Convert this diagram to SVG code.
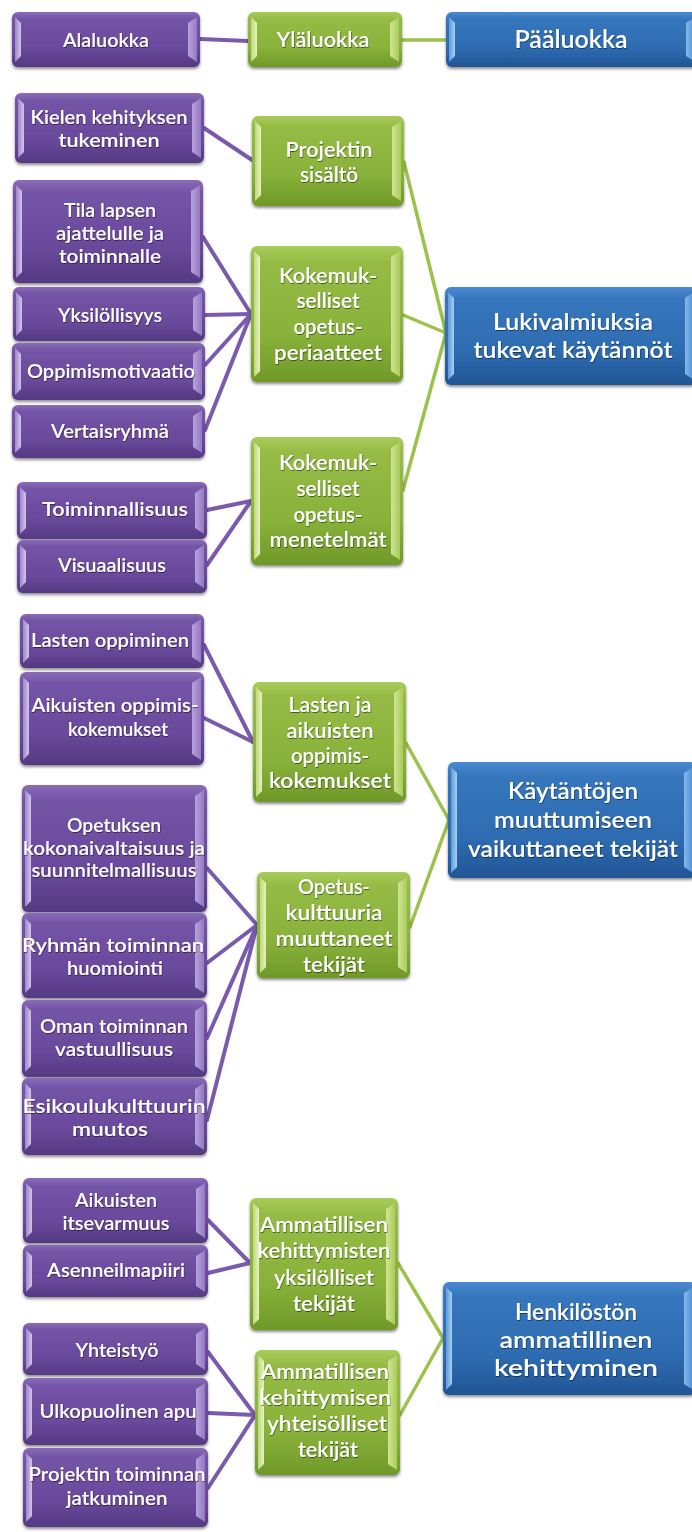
<svg xmlns="http://www.w3.org/2000/svg" width="692" height="1532" viewBox="0 0 692 1532">
  <defs>
    <!-- box bodies -->
    <linearGradient id="gP" x1="0" y1="0" x2="0" y2="1">
      <stop offset="0" stop-color="#8a6cba"/>
      <stop offset="0.12" stop-color="#7454a6"/>
      <stop offset="0.65" stop-color="#6a4a9c"/>
      <stop offset="1" stop-color="#553983"/>
    </linearGradient>
    <linearGradient id="gG" x1="0" y1="0" x2="0" y2="1">
      <stop offset="0" stop-color="#a9cc5a"/>
      <stop offset="0.12" stop-color="#95bb45"/>
      <stop offset="0.65" stop-color="#89b23b"/>
      <stop offset="1" stop-color="#6f9828"/>
    </linearGradient>
    <linearGradient id="gB" x1="0" y1="0" x2="0" y2="1">
      <stop offset="0" stop-color="#4a8ad0"/>
      <stop offset="0.12" stop-color="#3676bd"/>
      <stop offset="0.65" stop-color="#2e6cb1"/>
      <stop offset="1" stop-color="#215595"/>
    </linearGradient>
    <!-- bevel faces -->
    <linearGradient id="lP" x1="0" y1="0" x2="1" y2="0">
      <stop offset="0" stop-color="#9f86c9"/>
      <stop offset="1" stop-color="#d3c4ee"/>
    </linearGradient>
    <linearGradient id="rP" x1="0" y1="0" x2="1" y2="0">
      <stop offset="0" stop-color="#b8a2dc"/>
      <stop offset="1" stop-color="#9479c2"/>
    </linearGradient>
    <linearGradient id="lG" x1="0" y1="0" x2="1" y2="0">
      <stop offset="0" stop-color="#bcd97a"/>
      <stop offset="1" stop-color="#e8f3c0"/>
    </linearGradient>
    <linearGradient id="rG" x1="0" y1="0" x2="1" y2="0">
      <stop offset="0" stop-color="#d0e592"/>
      <stop offset="1" stop-color="#a9cb5c"/>
    </linearGradient>
    <linearGradient id="lB" x1="0" y1="0" x2="1" y2="0">
      <stop offset="0" stop-color="#5f9ad8"/>
      <stop offset="1" stop-color="#a8d0f2"/>
    </linearGradient>
    <linearGradient id="rB" x1="0" y1="0" x2="1" y2="0">
      <stop offset="0" stop-color="#86b8ea"/>
      <stop offset="1" stop-color="#4f8dd2"/>
    </linearGradient>
    <filter id="sh" x="-10%" y="-10%" width="120%" height="130%">
      <feDropShadow dx="0" dy="2" stdDeviation="1.5" flood-color="#000" flood-opacity="0.45"/>
    </filter>
    <filter id="ts" x="-10%" y="-30%" width="120%" height="160%">
      <feDropShadow dx="0.6" dy="1" stdDeviation="0.7" flood-color="#000" flood-opacity="0.5"/>
    </filter>
  </defs>
  <style>
    .node text{font-family:Lato,"Liberation Sans",sans-serif;fill:#fff;text-anchor:middle;font-weight:600;filter:url(#ts)}
    .purple text{font-size:18.5px}
    .green text{font-size:21.5px}
    .blue text{font-size:23.5px}
    .body{filter:url(#sh)}
    .purple .body{fill:url(#gP)}
    .green .body{fill:url(#gG)}
    .blue .body{fill:url(#gB)}
    .purple .lf{fill:url(#lP)}
    .purple .rf{fill:url(#rP)}
    .green .lf{fill:url(#lG)}
    .green .rf{fill:url(#rG)}
    .blue .lf{fill:url(#lB)}
    .blue .rf{fill:url(#rB)}
    .edge{fill:none;stroke-linecap:round}
    .ep{stroke:#7a5aad;stroke-width:4}
    .eg{stroke:#9cc24b;stroke-width:3.5}
  </style>

  <rect width="692" height="1532" fill="#fff"/>

  <!-- connectors -->
  <g id="connectors">
    <line class="edge ep" x1="200" y1="39" x2="248" y2="41"/>
    <line class="edge eg" x1="402" y1="40" x2="446" y2="40"/>

    <line class="edge ep" x1="204" y1="128" x2="252" y2="160"/>
    <line class="edge ep" x1="203" y1="237" x2="251" y2="314"/>
    <line class="edge ep" x1="205" y1="315" x2="251" y2="314"/>
    <line class="edge ep" x1="205" y1="365" x2="251" y2="314"/>
    <line class="edge ep" x1="205" y1="430" x2="251" y2="314"/>
    <line class="edge ep" x1="207" y1="510" x2="251" y2="501"/>
    <line class="edge ep" x1="207" y1="565" x2="251" y2="501"/>
    <line class="edge eg" x1="404" y1="162" x2="446" y2="333"/>
    <line class="edge eg" x1="403" y1="315" x2="446" y2="333"/>
    <line class="edge eg" x1="403" y1="490" x2="446" y2="333"/>

    <line class="edge ep" x1="204" y1="645" x2="253" y2="742"/>
    <line class="edge ep" x1="204" y1="718" x2="253" y2="742"/>
    <line class="edge ep" x1="207" y1="868" x2="257" y2="925"/>
    <line class="edge ep" x1="207" y1="963" x2="257" y2="925"/>
    <line class="edge ep" x1="207" y1="1038" x2="257" y2="925"/>
    <line class="edge ep" x1="207" y1="1120" x2="257" y2="925"/>
    <line class="edge eg" x1="406" y1="743" x2="449" y2="820"/>
    <line class="edge eg" x1="410" y1="927" x2="449" y2="820"/>

    <line class="edge ep" x1="208" y1="1220" x2="250" y2="1263"/>
    <line class="edge ep" x1="208" y1="1273" x2="250" y2="1263"/>
    <line class="edge ep" x1="208" y1="1352" x2="255" y2="1415"/>
    <line class="edge ep" x1="208" y1="1413" x2="255" y2="1415"/>
    <line class="edge ep" x1="208" y1="1488" x2="255" y2="1415"/>
    <line class="edge eg" x1="398" y1="1263" x2="443" y2="1338"/>
    <line class="edge eg" x1="400" y1="1415" x2="443" y2="1338"/>
  </g>

  <!-- key row -->
  <g id="alaluokka" class="node purple" transform="translate(12,12)">
    <rect class="body" width="188" height="55" rx="6"/>
    <polygon class="lf" points="3,5 9,11 9,44 3,50"/>
    <polygon class="rf" points="185,5 176,11 176,44 185,50"/>
    <text x="94" y="35" style="font-size:20px" textLength="86" lengthAdjust="spacingAndGlyphs">Alaluokka</text>
  </g>
  <g id="ylaluokka" class="node green" transform="translate(248,12)">
    <rect class="body" width="154" height="55" rx="6"/>
    <polygon class="lf" points="3,5 9,11 9,44 3,50"/>
    <polygon class="rf" points="151,5 142,11 142,44 151,50"/>
    <text x="75" y="35" style="font-size:21px" textLength="93" lengthAdjust="spacingAndGlyphs">Yläluokka</text>
  </g>
  <g id="paaluokka" class="node blue" transform="translate(446,12)">
    <rect class="body" width="252" height="55" rx="6"/>
    <polygon class="lf" points="3,5 9,11 9,44 3,50"/>
    <polygon class="rf" points="249,5 240,11 240,44 249,50"/>
    <text x="125" y="36" style="font-size:24px" textLength="113" lengthAdjust="spacingAndGlyphs">Pääluokka</text>
  </g>

  <!-- group 1 -->
  <g id="kielen" class="node purple" transform="translate(15,93)">
    <rect class="body" width="189" height="70" rx="6"/>
    <polygon class="lf" points="3,5 9,11 9,59 3,65"/>
    <polygon class="rf" points="186,5 177,11 177,59 186,65"/>
    <text x="94" y="31" textLength="157" lengthAdjust="spacingAndGlyphs">Kielen kehityksen</text>
    <text x="94" y="54" textLength="101" lengthAdjust="spacingAndGlyphs">tukeminen</text>
  </g>
  <g id="tila" class="node purple" transform="translate(13,180)">
    <rect class="body" width="190" height="103" rx="6"/>
    <polygon class="lf" points="3,5 9,11 9,92 3,98"/>
    <polygon class="rf" points="187,5 178,11 178,92 187,98"/>
    <text x="97" y="37" textLength="92" lengthAdjust="spacingAndGlyphs">Tila lapsen</text>
    <text x="97" y="60" textLength="108" lengthAdjust="spacingAndGlyphs">ajattelulle ja</text>
    <text x="97" y="83" textLength="102" lengthAdjust="spacingAndGlyphs">toiminnalle</text>
  </g>
  <g id="yksilollisyys" class="node purple" transform="translate(13,287)">
    <rect class="body" width="192" height="54" rx="6"/>
    <polygon class="lf" points="3,5 9,11 9,43 3,49"/>
    <polygon class="rf" points="189,5 180,11 180,43 189,49"/>
    <text x="97" y="35" textLength="104" lengthAdjust="spacingAndGlyphs">Yksilöllisyys</text>
  </g>
  <g id="oppimismotivaatio" class="node purple" transform="translate(12,343)">
    <rect class="body" width="193" height="57" rx="6"/>
    <polygon class="lf" points="3,5 9,11 9,46 3,52"/>
    <polygon class="rf" points="190,5 181,11 181,46 190,52"/>
    <text x="99" y="35" textLength="168" lengthAdjust="spacingAndGlyphs">Oppimismotivaatio</text>
  </g>
  <g id="vertaisryhma" class="node purple" transform="translate(12,405)">
    <rect class="body" width="193" height="53" rx="6"/>
    <polygon class="lf" points="3,5 9,11 9,42 3,48"/>
    <polygon class="rf" points="190,5 181,11 181,42 190,48"/>
    <text x="98" y="33" textLength="118" lengthAdjust="spacingAndGlyphs">Vertaisryhmä</text>
  </g>
  <g id="toiminnallisuus" class="node purple" transform="translate(17,482)">
    <rect class="body" width="190" height="57" rx="6"/>
    <polygon class="lf" points="3,5 9,11 9,46 3,52"/>
    <polygon class="rf" points="187,5 178,11 178,46 187,52"/>
    <text x="98" y="34" textLength="146" lengthAdjust="spacingAndGlyphs">Toiminnallisuus</text>
  </g>
  <g id="visuaalisuus" class="node purple" transform="translate(17,540)">
    <rect class="body" width="190" height="53" rx="6"/>
    <polygon class="lf" points="3,5 9,11 9,42 3,48"/>
    <polygon class="rf" points="187,5 178,11 178,42 187,48"/>
    <text x="95" y="32" textLength="108" lengthAdjust="spacingAndGlyphs">Visuaalisuus</text>
  </g>
  <g id="projektin-sisalto" class="node green" transform="translate(252,116)">
    <rect class="body" width="152" height="90" rx="6"/>
    <polygon class="lf" points="3,5 9,11 9,79 3,85"/>
    <polygon class="rf" points="149,5 140,11 140,79 149,85"/>
    <text x="77" y="41" textLength="87" lengthAdjust="spacingAndGlyphs">Projektin</text>
    <text x="77" y="66" textLength="58" lengthAdjust="spacingAndGlyphs">sisältö</text>
  </g>
  <g id="periaatteet" class="node green" transform="translate(251,246)">
    <rect class="body" width="152" height="136" rx="6"/>
    <polygon class="lf" points="3,5 9,11 9,125 3,131"/>
    <polygon class="rf" points="149,5 140,11 140,125 149,131"/>
    <text x="77" y="37" textLength="98" lengthAdjust="spacingAndGlyphs">Kokemuk-</text>
    <text x="77" y="62" textLength="63" lengthAdjust="spacingAndGlyphs">selliset</text>
    <text x="77" y="88" textLength="69" lengthAdjust="spacingAndGlyphs">opetus-</text>
    <text x="77" y="114" textLength="108" lengthAdjust="spacingAndGlyphs">periaatteet</text>
  </g>
  <g id="menetelmat" class="node green" transform="translate(251,437)">
    <rect class="body" width="152" height="128" rx="6"/>
    <polygon class="lf" points="3,5 9,11 9,117 3,123"/>
    <polygon class="rf" points="149,5 140,11 140,117 149,123"/>
    <text x="77" y="33" textLength="98" lengthAdjust="spacingAndGlyphs">Kokemuk-</text>
    <text x="77" y="59" textLength="63" lengthAdjust="spacingAndGlyphs">selliset</text>
    <text x="77" y="85" textLength="69" lengthAdjust="spacingAndGlyphs">opetus-</text>
    <text x="77" y="110" textLength="117" lengthAdjust="spacingAndGlyphs">menetelmät</text>
  </g>
  <g id="lukivalmiuksia" class="node blue" transform="translate(445,287)">
    <rect class="body" width="252" height="98" rx="6"/>
    <polygon class="lf" points="3,5 9,11 9,87 3,93"/>
    <polygon class="rf" points="249,5 240,11 240,87 249,93"/>
    <text x="128" y="43" textLength="160" lengthAdjust="spacingAndGlyphs">Lukivalmiuksia</text>
    <text x="128" y="71" textLength="199" lengthAdjust="spacingAndGlyphs">tukevat käytännöt</text>
  </g>

  <!-- group 2 -->
  <g id="lasten-oppiminen" class="node purple" transform="translate(20,614)">
    <rect class="body" width="184" height="54" rx="6"/>
    <polygon class="lf" points="3,5 9,11 9,43 3,49"/>
    <polygon class="rf" points="181,5 172,11 172,43 181,49"/>
    <text x="90" y="33" textLength="158" lengthAdjust="spacingAndGlyphs">Lasten oppiminen</text>
  </g>
  <g id="aikuisten-oppimiskokemukset" class="node purple" transform="translate(20,672)">
    <rect class="body" width="184" height="93" rx="6"/>
    <polygon class="lf" points="3,5 9,11 9,82 3,88"/>
    <polygon class="rf" points="181,5 172,11 172,82 181,88"/>
    <text x="95" y="40" textLength="167" lengthAdjust="spacingAndGlyphs">Aikuisten oppimis-</text>
    <text x="98" y="64" textLength="100" lengthAdjust="spacingAndGlyphs">kokemukset</text>
  </g>
  <g id="opetuksen" class="node purple" transform="translate(22,785)">
    <rect class="body" width="185" height="127" rx="6"/>
    <polygon class="lf" points="3,5 9,11 9,116 3,122"/>
    <polygon class="rf" points="182,5 173,11 173,116 182,122"/>
    <text x="92" y="47" textLength="94" lengthAdjust="spacingAndGlyphs">Opetuksen</text>
    <text x="92" y="70" textLength="182" lengthAdjust="spacingAndGlyphs">kokonaivaltaisuus ja</text>
    <text x="92" y="92" textLength="165" lengthAdjust="spacingAndGlyphs">suunnitelmallisuus</text>
  </g>
  <g id="ryhman" class="node purple" transform="translate(22,913)">
    <rect class="body" width="185" height="85" rx="6"/>
    <polygon class="lf" points="3,5 9,11 9,74 3,80"/>
    <polygon class="rf" points="182,5 173,11 173,74 182,80"/>
    <text x="91" y="39" textLength="182" lengthAdjust="spacingAndGlyphs">Ryhmän toiminnan</text>
    <text x="93" y="62" textLength="96" lengthAdjust="spacingAndGlyphs">huomiointi</text>
  </g>
  <g id="oman" class="node purple" transform="translate(22,1000)">
    <rect class="body" width="185" height="77" rx="6"/>
    <polygon class="lf" points="3,5 9,11 9,66 3,72"/>
    <polygon class="rf" points="182,5 173,11 173,66 182,72"/>
    <text x="92" y="33" textLength="148" lengthAdjust="spacingAndGlyphs">Oman toiminnan</text>
    <text x="92" y="56" textLength="118" lengthAdjust="spacingAndGlyphs">vastuullisuus</text>
  </g>
  <g id="esikoulu" class="node purple" transform="translate(22,1078)">
    <rect class="body" width="185" height="77" rx="6"/>
    <polygon class="lf" points="3,5 9,11 9,66 3,72"/>
    <polygon class="rf" points="182,5 173,11 173,66 182,72"/>
    <text x="92" y="35" textLength="183" lengthAdjust="spacingAndGlyphs">Esikoulukulttuurin</text>
    <text x="88" y="58" textLength="76" lengthAdjust="spacingAndGlyphs">muutos</text>
  </g>
  <g id="lasten-ja-aikuisten" class="node green" transform="translate(253,682)">
    <rect class="body" width="153" height="120" rx="6"/>
    <polygon class="lf" points="3,5 9,11 9,109 3,115"/>
    <polygon class="rf" points="150,5 141,11 141,109 150,115"/>
    <text x="77" y="30" textLength="83" lengthAdjust="spacingAndGlyphs">Lasten ja</text>
    <text x="77" y="56" textLength="87" lengthAdjust="spacingAndGlyphs">aikuisten</text>
    <text x="77" y="81" textLength="78" lengthAdjust="spacingAndGlyphs">oppimis-</text>
    <text x="77" y="106" textLength="122" lengthAdjust="spacingAndGlyphs">kokemukset</text>
  </g>
  <g id="opetuskulttuuria" class="node green" transform="translate(257,872)">
    <rect class="body" width="153" height="106" rx="6"/>
    <polygon class="lf" points="3,5 9,11 9,95 3,101"/>
    <polygon class="rf" points="150,5 141,11 141,95 150,101"/>
    <text x="77" y="22" textLength="72" lengthAdjust="spacingAndGlyphs">Opetus-</text>
    <text x="77" y="48" textLength="97" lengthAdjust="spacingAndGlyphs">kulttuuria</text>
    <text x="77" y="74" textLength="117" lengthAdjust="spacingAndGlyphs">muuttaneet</text>
    <text x="77" y="100" textLength="62" lengthAdjust="spacingAndGlyphs">tekijät</text>
  </g>
  <g id="kaytantojen" class="node blue" transform="translate(448,762)">
    <rect class="body" width="248" height="116" rx="6"/>
    <polygon class="lf" points="3,5 9,11 9,105 3,111"/>
    <polygon class="rf" points="245,5 236,11 236,105 245,111"/>
    <text x="125" y="37" textLength="130" lengthAdjust="spacingAndGlyphs">Käytäntöjen</text>
    <text x="125" y="66" textLength="158" lengthAdjust="spacingAndGlyphs">muuttumiseen</text>
    <text x="125" y="95" textLength="210" lengthAdjust="spacingAndGlyphs">vaikuttaneet tekijät</text>
  </g>

  <!-- group 3 -->
  <g id="itsevarmuus" class="node purple" transform="translate(23,1178)">
    <rect class="body" width="185" height="65" rx="6"/>
    <polygon class="lf" points="3,5 9,11 9,54 3,60"/>
    <polygon class="rf" points="182,5 173,11 173,54 182,60"/>
    <text x="93" y="29" textLength="82" lengthAdjust="spacingAndGlyphs">Aikuisten</text>
    <text x="93" y="52" textLength="107" lengthAdjust="spacingAndGlyphs">itsevarmuus</text>
  </g>
  <g id="asenneilmapiiri" class="node purple" transform="translate(23,1245)">
    <rect class="body" width="185" height="52" rx="6"/>
    <polygon class="lf" points="3,5 9,11 9,41 3,47"/>
    <polygon class="rf" points="182,5 173,11 173,41 182,47"/>
    <text x="93" y="32" textLength="138" lengthAdjust="spacingAndGlyphs">Asenneilmapiiri</text>
  </g>
  <g id="yhteistyo" class="node purple" transform="translate(23,1323)">
    <rect class="body" width="185" height="52" rx="6"/>
    <polygon class="lf" points="3,5 9,11 9,41 3,47"/>
    <polygon class="rf" points="182,5 173,11 173,41 182,47"/>
    <text x="94" y="34" textLength="83" lengthAdjust="spacingAndGlyphs">Yhteistyö</text>
  </g>
  <g id="ulkopuolinen" class="node purple" transform="translate(23,1378)">
    <rect class="body" width="185" height="67" rx="6"/>
    <polygon class="lf" points="3,5 9,11 9,56 3,62"/>
    <polygon class="rf" points="182,5 173,11 173,56 182,62"/>
    <text x="95" y="40" textLength="157" lengthAdjust="spacingAndGlyphs">Ulkopuolinen apu</text>
  </g>
  <g id="jatkuminen" class="node purple" transform="translate(23,1448)">
    <rect class="body" width="185" height="79" rx="6"/>
    <polygon class="lf" points="3,5 9,11 9,68 3,74"/>
    <polygon class="rf" points="182,5 173,11 173,68 182,74"/>
    <text x="94" y="33" textLength="177" lengthAdjust="spacingAndGlyphs">Projektin toiminnan</text>
    <text x="94" y="57" textLength="101" lengthAdjust="spacingAndGlyphs">jatkuminen</text>
  </g>
  <g id="yksilolliset" class="node green" transform="translate(250,1198)">
    <rect class="body" width="148" height="132" rx="6"/>
    <polygon class="lf" points="3,5 9,11 9,121 3,127"/>
    <polygon class="rf" points="145,5 136,11 136,121 145,127"/>
    <text x="74" y="34" textLength="128" lengthAdjust="spacingAndGlyphs">Ammatillisen</text>
    <text x="74" y="60" textLength="133" lengthAdjust="spacingAndGlyphs">kehittymisten</text>
    <text x="74" y="87" textLength="100" lengthAdjust="spacingAndGlyphs">yksilölliset</text>
    <text x="74" y="113" textLength="62" lengthAdjust="spacingAndGlyphs">tekijät</text>
  </g>
  <g id="yhteisolliset" class="node green" transform="translate(255,1350)">
    <rect class="body" width="145" height="125" rx="6"/>
    <polygon class="lf" points="3,5 9,11 9,114 3,120"/>
    <polygon class="rf" points="142,5 133,11 133,114 142,120"/>
    <text x="70" y="29" textLength="128" lengthAdjust="spacingAndGlyphs">Ammatillisen</text>
    <text x="70" y="55" textLength="132" lengthAdjust="spacingAndGlyphs">kehittymisen</text>
    <text x="72" y="81" textLength="120" lengthAdjust="spacingAndGlyphs">yhteisölliset</text>
    <text x="73" y="107" textLength="60" lengthAdjust="spacingAndGlyphs">tekijät</text>
  </g>
  <g id="henkiloston" class="node blue" transform="translate(443,1282)">
    <rect class="body" width="253" height="113" rx="6"/>
    <polygon class="lf" points="3,5 9,11 9,102 3,108"/>
    <polygon class="rf" points="250,5 241,11 241,102 250,108"/>
    <text x="133" y="38" textLength="122" lengthAdjust="spacingAndGlyphs">Henkilöstön</text>
    <text x="133" y="66" textLength="153" lengthAdjust="spacingAndGlyphs">ammatillinen</text>
    <text x="133" y="94" textLength="164" lengthAdjust="spacingAndGlyphs">kehittyminen</text>
  </g>
</svg>
